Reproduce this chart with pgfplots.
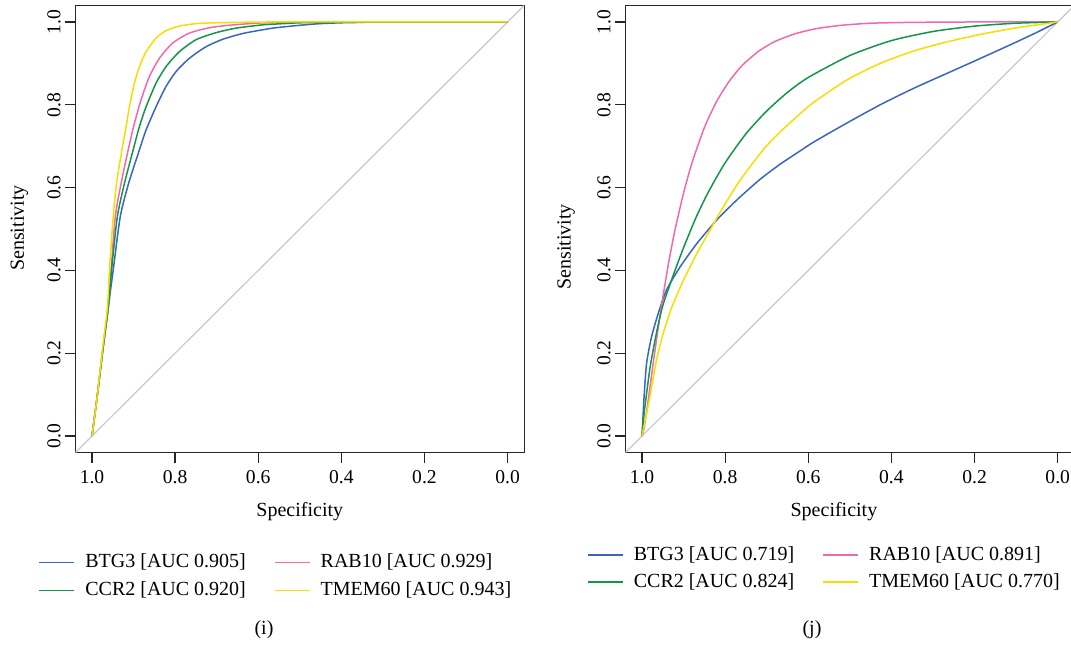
\documentclass[border=0pt]{standalone}
\usepackage{pgfplots}
\pgfplotsset{compat=1.18}
\usepackage{fontspec}
\setmainfont{Liberation Serif}
\definecolor{cBlue}{HTML}{3A66C0}
\definecolor{cGreen}{HTML}{14964A}
\definecolor{cPink}{HTML}{F06AAA}
\definecolor{cYellow}{HTML}{F5DF00}
\definecolor{cDiag}{HTML}{C8C8C8}
\pgfplotsset{
 rocaxis/.style={
  scale only axis, height=223.6pt, anchor=south west,
  x dir=reverse, ymin=-0.04, ymax=1.04,
  xtick={0,0.2,0.4,0.6,0.8,1}, ytick={0,0.2,0.4,0.6,0.8,1},
  xticklabels={0.0,0.2,0.4,0.6,0.8,1.0}, yticklabels={0.0,0.2,0.4,0.6,0.8,1.0},
  xtick pos=bottom, ytick pos=left, tick align=outside, major tick length=5pt,
  xticklabel shift=0.5pt, yticklabel shift=-1.2pt,
  axis line style={line width=0.65pt, draw=black!85},
  tick style={line width=0.65pt, black!85},
  ticklabel style={font=\fontsize{9.8}{11}\selectfont},
  yticklabel style={rotate=90, anchor=south},
  label style={font=\fontsize{10}{12}\selectfont},
  xlabel=Specificity, ylabel=Sensitivity,
  legend columns=2, legend cell align=left,
  legend image code/.code={\draw[#1, line width=0.9pt] (0pt,0pt) -- (17.5pt,0pt);},
  legend style={draw=none, fill=none, inner sep=0pt, anchor=north west,
     font=\fontsize{10}{12}\selectfont, row sep=2pt,
     /tikz/every odd column/.append style={column sep=3.5pt},
     /tikz/every even column/.append style={column sep=12.5pt},
     nodes={inner sep=1.5pt, text height=7pt, text depth=2pt}},
  every axis plot/.append style={line width=0.75pt},
 }
}
\begin{document}
\begin{tikzpicture}
\path[use as bounding box] (0,0) rectangle (535.5pt,322pt);
% ---------------- left panel (i)
\begin{axis}[rocaxis, at={(37.7pt,95.7pt)}, width=224.4pt, xmin=-0.04, xmax=1.04,
  x label style={at={(axis description cs:0.5,-0.133)}, anchor=center},
  y label style={at={(axis description cs:-0.125,0.502)}, anchor=center},
  legend style={at={(axis description cs:-0.083,-0.218)}}]
\addplot[cDiag, line width=0.6pt, forget plot] coordinates {(1.04,-0.04) (-0.04,1.04)};
\addplot[cBlue, smooth, tension=0.4] coordinates {
(1.0,0) (0.987,0.10) (0.974,0.208) (0.961,0.31) (0.949,0.401) (0.932,0.530) (0.912,0.610) (0.886,0.691) (0.870,0.739) (0.846,0.795) (0.822,0.844) (0.798,0.880) (0.766,0.912) (0.726,0.940) (0.686,0.958) (0.638,0.972) (0.590,0.981) (0.558,0.986) (0.50,0.992) (0.45,0.996) (0.40,0.998) (0.35,0.999) (0.30,1.0) (0.0,1.0)};
\addlegendentry{BTG3 [AUC 0.905]}
\addplot[cPink, smooth, tension=0.4] coordinates {
(1.0,0) (0.987,0.10) (0.974,0.208) (0.961,0.31) (0.954,0.401) (0.944,0.530) (0.930,0.610) (0.913,0.691) (0.898,0.755) (0.882,0.812) (0.862,0.868) (0.838,0.912) (0.806,0.949) (0.766,0.973) (0.718,0.986) (0.670,0.992) (0.606,0.997) (0.55,0.999) (0.45,1.0) (0.0,1.0)};
\addlegendentry{RAB10 [AUC 0.929]}
\addplot[cGreen, smooth, tension=0.4] coordinates {
(1.0,0) (0.987,0.10) (0.974,0.208) (0.961,0.31) (0.953,0.401) (0.939,0.530) (0.922,0.610) (0.901,0.691) (0.886,0.747) (0.870,0.795) (0.846,0.852) (0.822,0.892) (0.790,0.928) (0.750,0.957) (0.702,0.974) (0.654,0.985) (0.590,0.993) (0.558,0.995) (0.50,0.998) (0.45,0.999) (0.35,1.0) (0.0,1.0)};
\addlegendentry{CCR2 [AUC 0.920]}
\addplot[cYellow, smooth, tension=0.4] coordinates {
(1.0,0) (0.987,0.10) (0.975,0.208) (0.963,0.31) (0.958,0.401) (0.949,0.530) (0.941,0.610) (0.928,0.691) (0.918,0.747) (0.910,0.795) (0.898,0.852) (0.886,0.892) (0.870,0.928) (0.846,0.961) (0.822,0.979) (0.790,0.990) (0.750,0.996) (0.702,0.998) (0.65,0.999) (0.55,1.0) (0.0,1.0)};
\addlegendentry{TMEM60 [AUC 0.943]}
\end{axis}
% ---------------- right panel (j)
\begin{axis}[rocaxis, at={(312.7pt,95.7pt)}, width=222.8pt, xmin=-0.032, xmax=1.04,
  axis y line*=left,
  x label style={at={(axis description cs:0.468,-0.133)}, anchor=center},
  y label style={at={(axis description cs:-0.133,0.46)}, anchor=center},
  legend style={at={(axis description cs:-0.087,-0.202)}, row sep=1.5pt}]
\addplot[cDiag, line width=0.6pt, forget plot] coordinates {(1.04,-0.04) (-0.04,1.04)};
\addplot[cBlue, smooth, tension=0.4] coordinates {
(1,0) (0.995,0.095) (0.989,0.176) (0.977,0.240) (0.961,0.296) (0.941,0.353) (0.908,0.409) (0.868,0.465) (0.820,0.522) (0.772,0.570) (0.716,0.620) (0.667,0.657) (0.619,0.689) (0.587,0.710) (0.507,0.756) (0.427,0.800) (0.346,0.840) (0.266,0.876) (0.186,0.912) (0.105,0.949) (0.05,0.975) (0,1.0)};
\addlegendentry{BTG3 [AUC 0.719]}
\addplot[cPink, smooth, tension=0.4] coordinates {
(1,0) (0.995,0.019) (0.985,0.087) (0.973,0.177) (0.960,0.269) (0.950,0.335) (0.935,0.424) (0.920,0.501) (0.900,0.587) (0.880,0.659) (0.850,0.745) (0.820,0.809) (0.790,0.857) (0.760,0.894) (0.720,0.929) (0.680,0.953) (0.630,0.972) (0.580,0.984) (0.520,0.992) (0.450,0.997) (0.350,0.999) (0.200,1.0) (0,1)};
\addlegendentry{RAB10 [AUC 0.891]}
\addplot[cGreen, smooth, tension=0.4] coordinates {
(1,0) (0.995,0.055) (0.990,0.095) (0.980,0.170) (0.965,0.250) (0.950,0.315) (0.925,0.388) (0.900,0.455) (0.870,0.528) (0.840,0.590) (0.800,0.660) (0.750,0.730) (0.700,0.785) (0.650,0.830) (0.600,0.866) (0.500,0.919) (0.400,0.955) (0.300,0.977) (0.200,0.990) (0.100,0.997) (0,1)};
\addlegendentry{CCR2 [AUC 0.824]}
\addplot[cYellow, smooth, tension=0.4] coordinates {
(1,0) (0.981,0.095) (0.965,0.184) (0.949,0.248) (0.928,0.312) (0.900,0.377) (0.868,0.441) (0.836,0.498) (0.804,0.554) (0.764,0.618) (0.708,0.692) (0.667,0.735) (0.619,0.779) (0.587,0.806) (0.507,0.860) (0.427,0.900) (0.346,0.930) (0.266,0.952) (0.186,0.970) (0.105,0.985) (0.05,0.993) (0,1)};
\addlegendentry{TMEM60 [AUC 0.770]}
\end{axis}
\node[font=\fontsize{10}{12}\selectfont] at (132pt,7pt) {(i)};
\node[font=\fontsize{10}{12}\selectfont] at (406pt,7pt) {(j)};
\end{tikzpicture}
\end{document}
